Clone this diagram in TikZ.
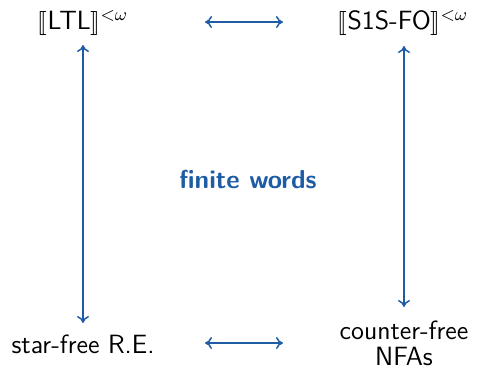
\documentclass[tikz,border=0pt]{standalone}
\usepackage{stmaryrd}
\usetikzlibrary{arrows.meta}
\renewcommand{\familydefault}{\sfdefault}
\definecolor{arrowblue}{RGB}{30,92,165}
\tikzset{
  lbl/.style={font=\fontsize{13.2}{12.6}\selectfont, inner sep=0pt, anchor=base, align=center},
  link/.style={arrowblue, line width=0.75pt, {To[length=3.5pt,width=6pt]}-{To[length=3.5pt,width=6pt]}},
}
\begin{document}
\begin{tikzpicture}[x=0.5pt,y=-0.5pt]
\useasboundingbox (0,0) rectangle (478,371);
\node[lbl] (ltl) at (83,29) {$\llbracket\textsf{LTL}\rrbracket^{<\omega}$};
\node[lbl] (fo) at (403,29) {$\llbracket\textsf{S1S-FO}\rrbracket^{<\omega}$};
\node[lbl] (re) at (83,353) {star-free R.E.};
\node[lbl] (nfa) at (404,365) {counter-free\\NFAs};
\node[lbl, font=\fontsize{13}{15}\selectfont\bfseries, text=arrowblue] (fw) at (248,188) {finite words};
% connectors
\coordinate (t1) at (205,22); \coordinate (t2) at (283,22);
\coordinate (b1) at (205,343); \coordinate (b2) at (283,343);
\coordinate (l1) at (83,45); \coordinate (l2) at (83,323);
\coordinate (r1) at (404,46); \coordinate (r2) at (404,307);
\draw[link] (t1) -- (t2);
\draw[link] (b1) -- (b2);
\draw[link] (l1) -- (l2);
\draw[link] (r1) -- (r2);
\end{tikzpicture}
\end{document}
